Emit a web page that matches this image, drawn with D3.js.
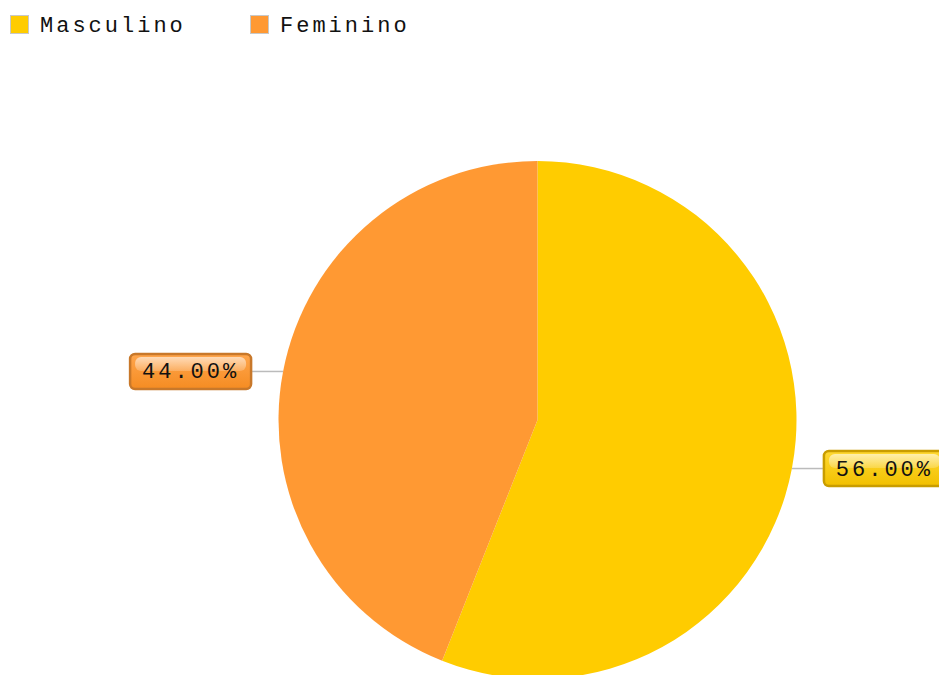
<!DOCTYPE html>
<html>
<head>
<meta charset="utf-8">
<script src="https://cdn.jsdelivr.net/npm/d3@7"></script>
<style>
  body { margin: 0; background: #fff; }
  svg { display: block; }
  text { font-family: "Liberation Mono", "Courier New", monospace; }
</style>
</head>
<body>
<div id="chart"></div>
<script>
var categories = ["Masculino", "Feminino"];
var values = [56, 44];
var labels = ["56.00%", "44.00%"];
var colors = ["#ffcc00", "#ff9933"];
var topColors = ["#ffd933", "#ffa64d"];
var bottomColors = ["#f2c000", "#f58c22"];
var darkColors = ["#c99d00", "#c8782a"];

var width = 939, height = 675;
var cx = 537.5, cy = 420, radius = 259;

var svg = d3.select("#chart").append("svg")
    .attr("width", width)
    .attr("height", height);

var defs = svg.append("defs");
categories.forEach(function(c, i) {
    var g = defs.append("linearGradient")
        .attr("id", "lab" + i)
        .attr("x1", 0).attr("y1", 0).attr("x2", 0).attr("y2", 1);
    g.append("stop").attr("offset", "0%").attr("stop-color", topColors[i]);
    g.append("stop").attr("offset", "100%").attr("stop-color", bottomColors[i]);
});
var hl = defs.append("linearGradient")
    .attr("id", "hl")
    .attr("x1", 0).attr("y1", 0).attr("x2", 0).attr("y2", 1);
hl.append("stop").attr("offset", "0%").attr("stop-color", "#fff").attr("stop-opacity", 0.6);
hl.append("stop").attr("offset", "100%").attr("stop-color", "#fff").attr("stop-opacity", 0.2);

// legend
var legend = svg.append("g");
var legendX = [10, 250];
categories.forEach(function(c, i) {
    legend.append("rect")
        .attr("x", legendX[i] + 0.5).attr("y", 15.5)
        .attr("width", 18).attr("height", 18)
        .attr("fill", colors[i])
        .attr("stroke", "#c8c8c8");
    legend.append("text")
        .attr("x", legendX[i] + 30).attr("y", 32)
        .attr("font-size", 22)
        .attr("letter-spacing", 3)
        .attr("fill", "#111")
        .text(c);
});

// pie
var pie = d3.pie().sort(null).value(function(d) { return d; });
var arcs = pie(values);
var arc = d3.arc().innerRadius(0).outerRadius(radius);

var g = svg.append("g")
    .attr("transform", "translate(" + cx + "," + cy + ")");

g.selectAll("path")
    .data(arcs)
  .enter().append("path")
    .attr("d", arc)
    .attr("fill", function(d, i) { return colors[i]; });

// labels
var boxW = 123, boxH = 37, lineLen = 31;
arcs.forEach(function(d, i) {
    var a = (d.startAngle + d.endAngle) / 2;
    var px = Math.sin(a) * radius, py = -Math.cos(a) * radius;
    var side = px >= 0 ? 1 : -1;
    var ex = px + side * lineLen;
    g.append("line")
        .attr("x1", px).attr("y1", py)
        .attr("x2", ex).attr("y2", py)
        .attr("stroke", "#bbb").attr("stroke-width", 1.5);
    var bx = side > 0 ? ex : ex - boxW;
    var lab = g.append("g").attr("transform", "translate(" + bx + "," + (py - boxH / 2) + ")");
    lab.append("rect")
        .attr("x", 1).attr("y", 1)
        .attr("width", boxW - 2).attr("height", boxH - 2)
        .attr("rx", 5)
        .attr("fill", "url(#lab" + i + ")")
        .attr("stroke", darkColors[i]).attr("stroke-width", 2.5);
    lab.append("rect")
        .attr("x", 6).attr("y", 4)
        .attr("width", boxW - 12).attr("height", 14)
        .attr("rx", 6)
        .attr("fill", "url(#hl)");
    lab.append("text")
        .attr("x", boxW / 2).attr("y", boxH / 2 + 7)
        .attr("text-anchor", "middle")
        .attr("font-size", 22)
        .attr("letter-spacing", 3)
        .attr("fill", "#111")
        .text(labels[i]);
});
</script>
</body>
</html>
